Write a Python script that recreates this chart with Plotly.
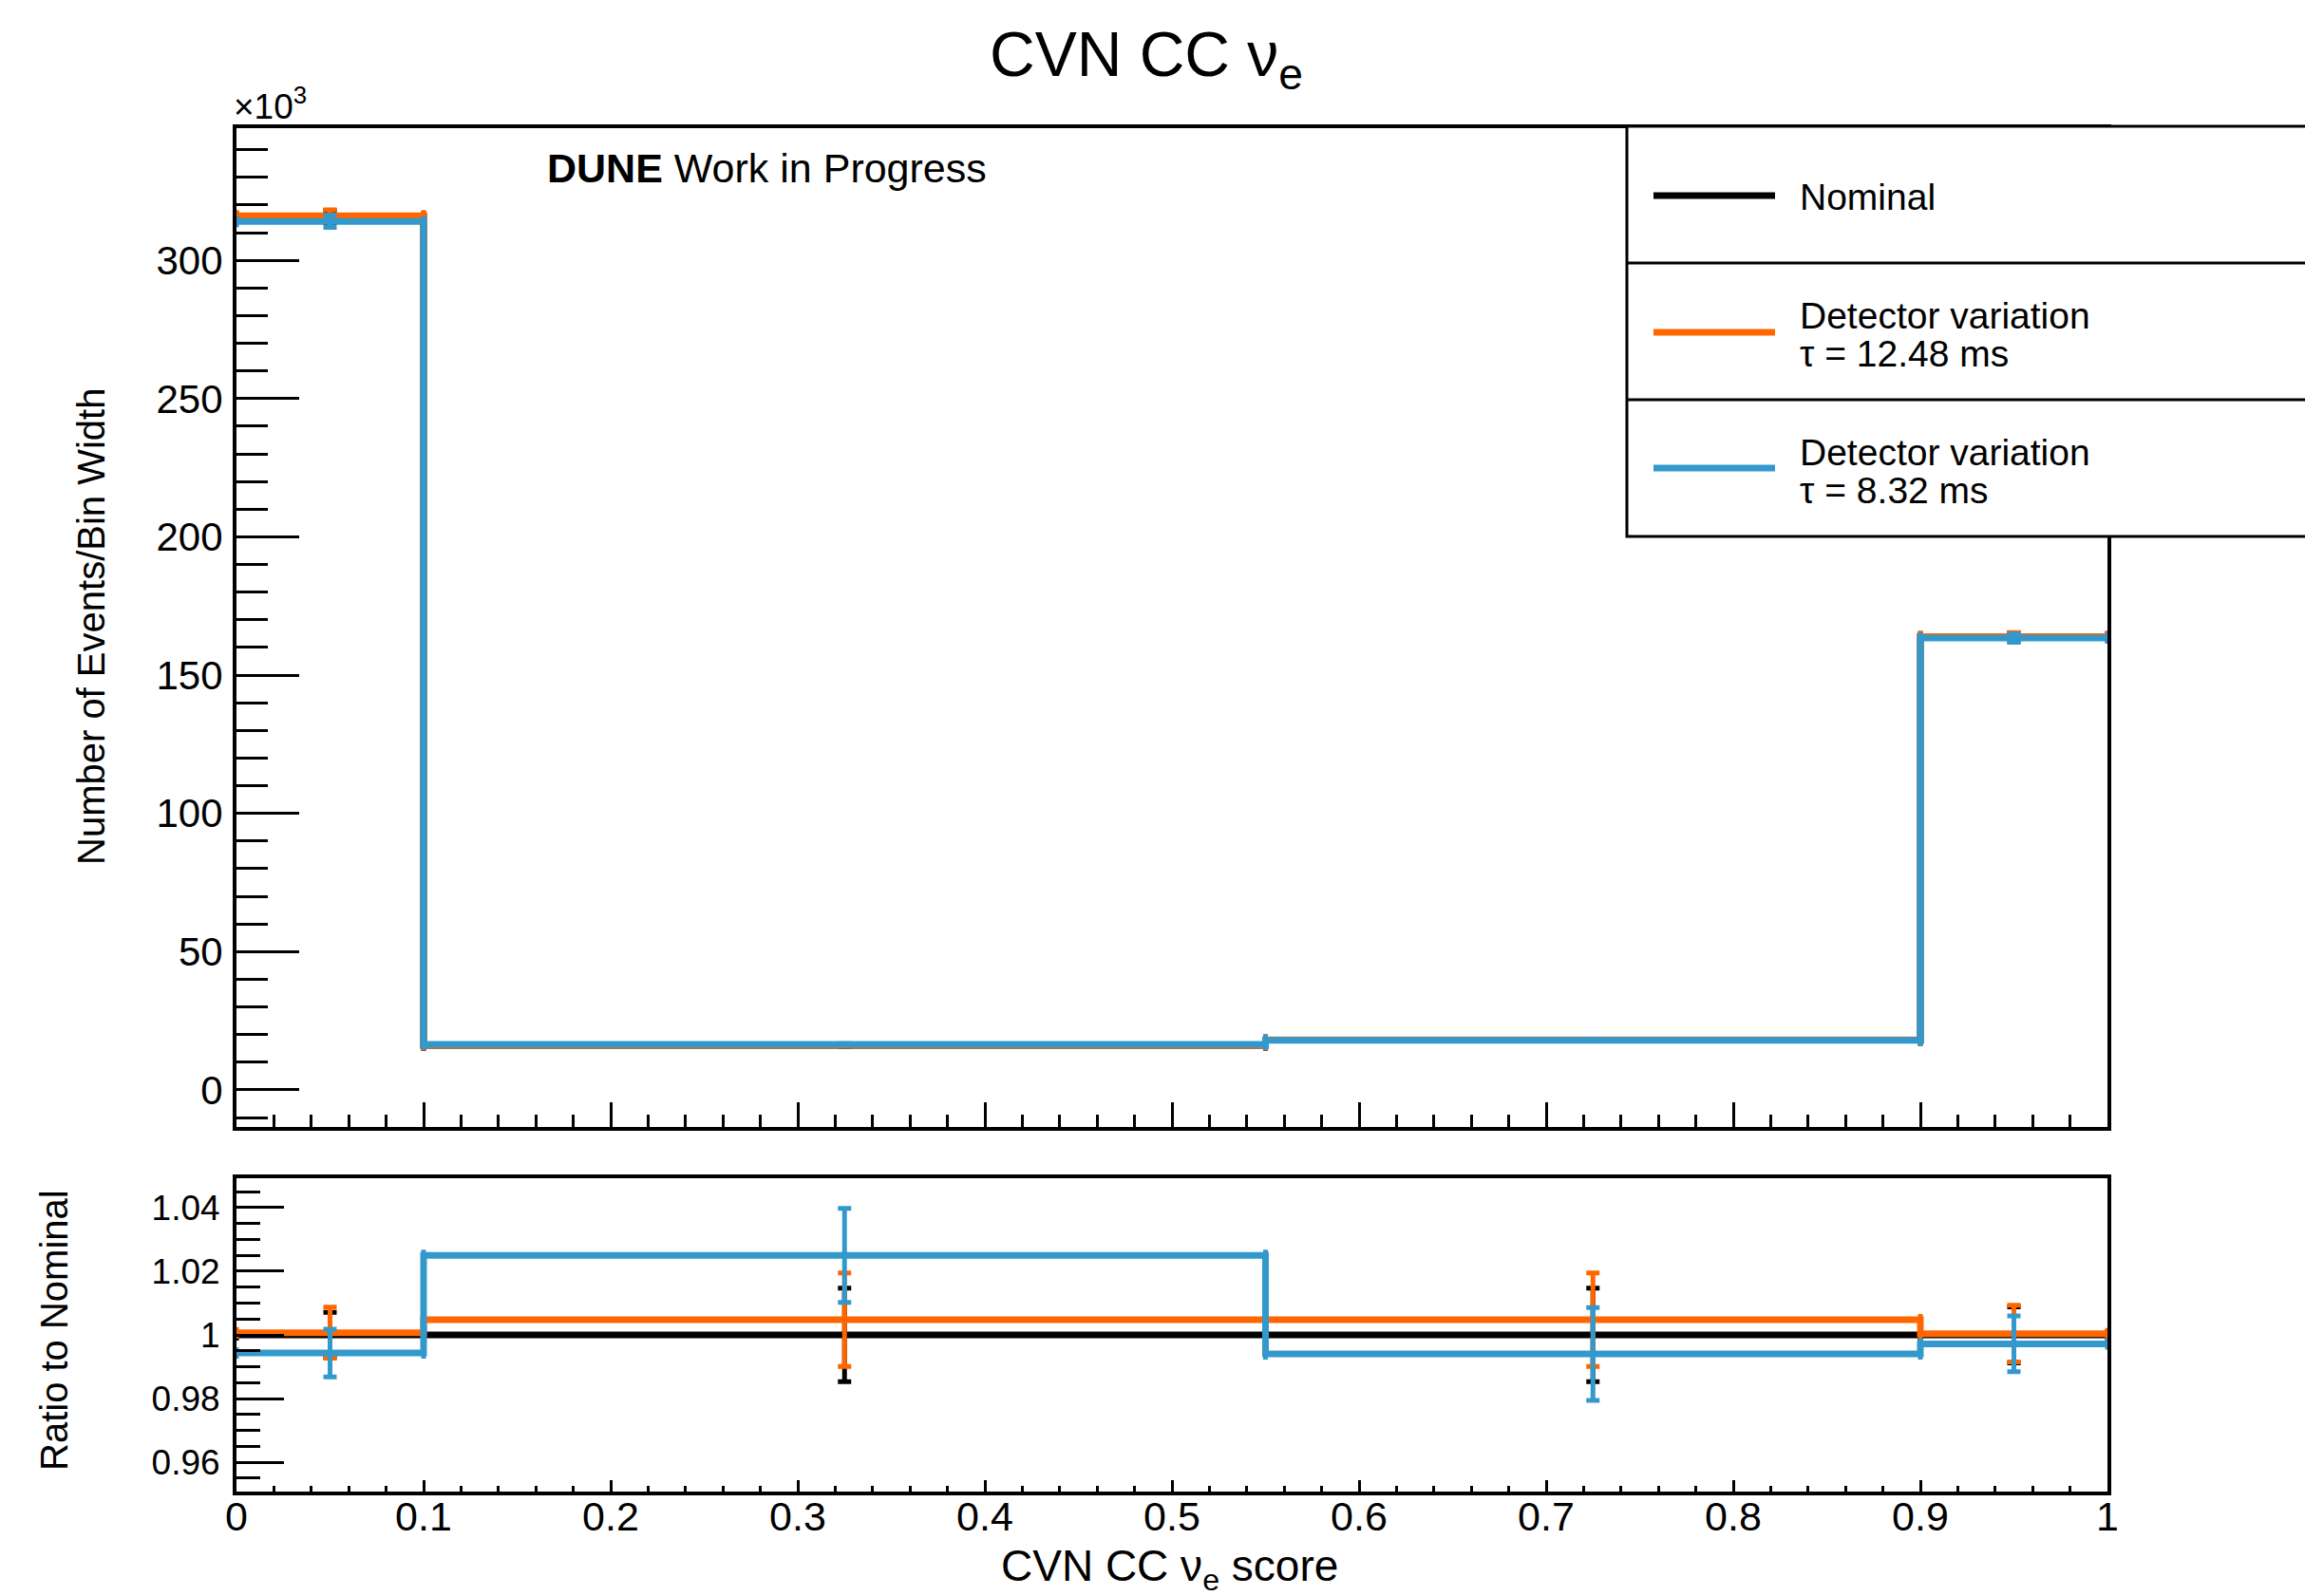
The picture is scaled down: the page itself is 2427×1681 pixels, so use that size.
import plotly.graph_objects as go

W, H = 2427, 1681

# ---------------- data ----------------
bin_edges = [0.0, 0.1, 0.55, 0.9, 1.0]

# Number of events / bin width, in units of 10^3
nominal = [315.8, 16.1, 18.0, 163.85]
var_12p48 = [316.1, 16.18, 18.09, 163.9]
var_8p32 = [314.1, 16.5, 17.9, 163.4]
nominal_err = [2.2, 0.24, 0.26, 1.5]
var_12p48_err = [2.2, 0.24, 0.27, 1.5]
var_8p32_err = [2.2, 0.24, 0.26, 1.5]

# Ratio to nominal
ratio_nominal = [1.0, 1.0, 1.0, 1.0]
ratio_12p48 = [1.0007, 1.0048, 1.0048, 1.0004]
ratio_8p32 = [0.9943, 1.025, 0.994, 0.9972]
ratio_nominal_err = [0.0071, 0.0147, 0.0147, 0.0088]
ratio_12p48_err = [0.008, 0.0147, 0.0147, 0.0089]
ratio_8p32_err = [0.0075, 0.0148, 0.0146, 0.0088]

series_names = ["Nominal", "Detector variation", "Detector variation"]
series_sub = ["", "τ = 12.48 ms", "τ = 8.32 ms"]
colors = ["#000000", "#FF6600", "#3399CC"]

FONT = "Liberation Sans, Arial, Helvetica, sans-serif"


def px(x):
    return x / W


def py(y):
    return 1 - y / H


fig = go.Figure()

centers = [(a + b) / 2 for a, b in zip(bin_edges[:-1], bin_edges[1:])]
halfw = [(b - a) / 2 for a, b in zip(bin_edges[:-1], bin_edges[1:])]


def add_hist(vals, errs, color, xa, ya):
    fig.add_trace(go.Scatter(
        x=bin_edges, y=list(vals) + [vals[-1]], mode="lines",
        line=dict(color=color, width=7, shape="hv"),
        xaxis=xa, yaxis=ya, showlegend=False, hoverinfo="skip"))
    fig.add_trace(go.Scatter(
        x=centers, y=vals, mode="markers",
        marker=dict(size=0.1, color=color),
        error_x=dict(type="data", array=halfw, color=color, thickness=5, width=6),
        error_y=dict(type="data", array=errs, color=color, thickness=5, width=7),
        xaxis=xa, yaxis=ya, showlegend=False, hoverinfo="skip", cliponaxis=False))


for vals, errs, c in zip([nominal, var_12p48, var_8p32],
                         [nominal_err, var_12p48_err, var_8p32_err], colors):
    add_hist(vals, errs, c, "x", "y")

for vals, errs, c in zip([ratio_nominal, ratio_12p48, ratio_8p32],
                         [ratio_nominal_err, ratio_12p48_err, ratio_8p32_err], colors):
    add_hist(vals, errs, c, "x2", "y2")

xdom = [px(249), px(2219)]
common = dict(showline=True, linecolor="black", linewidth=4, mirror=True,
              ticks="inside", tickcolor="black", tickwidth=3,
              showgrid=False, zeroline=False, automargin=False)

fig.update_layout(
    width=W, height=H, autosize=False,
    margin=dict(l=0, r=0, t=0, b=0, pad=0),
    paper_bgcolor="white", plot_bgcolor="white",
    showlegend=False,
    font=dict(family=FONT, color="black"),
    xaxis=dict(domain=xdom, anchor="y", range=[0, 1], dtick=0.1, tick0=0,
               ticklen=26, showticklabels=False,
               minor=dict(dtick=0.02, tick0=0, ticks="inside", ticklen=13,
                          tickwidth=3, tickcolor="black", showgrid=False),
               **common),
    yaxis=dict(domain=[py(1187), py(135)], anchor="x", range=[-13.4, 347.8],
               dtick=50, tick0=0, ticklen=66,
               tickfont=dict(size=42, family=FONT), ticklabelstandoff=2,
               minor=dict(dtick=10, tick0=0, ticks="inside", ticklen=33,
                          tickwidth=3, tickcolor="black", showgrid=False),
               **common),
    xaxis2=dict(domain=xdom, anchor="y2", range=[0, 1], dtick=0.1, tick0=0,
                ticklen=12, tickfont=dict(size=43, family=FONT), ticklabelstandoff=-15,
                minor=dict(dtick=0.02, tick0=0, ticks="inside", ticklen=6,
                           tickwidth=3, tickcolor="black", showgrid=False),
                **common),
    yaxis2=dict(domain=[py(1571), py(1241)], anchor="x2", range=[0.95075, 1.04925],
                dtick=0.02, tick0=0.96, ticklen=50,
                tickfont=dict(size=37, family=FONT), ticklabelstandoff=6,
                minor=dict(dtick=0.005, tick0=0.95, ticks="inside", ticklen=25,
                           tickwidth=3, tickcolor="black", showgrid=False),
                **common),
)

# ---------------- legend (drawn by hand, ROOT style) ----------------
shapes = []
lx0, lx1 = 1713, 2440
ly = [133, 277, 421, 565]
shapes.append(dict(type="rect", xref="paper", yref="paper",
                   x0=px(lx0), x1=px(lx1), y0=py(ly[3]), y1=py(ly[0]),
                   line=dict(color="black", width=3), fillcolor="white", layer="above"))
for yy in ly[1:3]:
    shapes.append(dict(type="line", xref="paper", yref="paper",
                       x0=px(lx0), x1=px(lx1), y0=py(yy), y1=py(yy),
                       line=dict(color="black", width=3), layer="above"))
legend_line_y = [206, 350, 493]
for yy, c in zip(legend_line_y, colors):
    shapes.append(dict(type="line", xref="paper", yref="paper",
                       x0=px(1741), x1=px(1869), y0=py(yy), y1=py(yy),
                       line=dict(color=c, width=7), layer="above"))
fig.update_layout(shapes=shapes)

ann = []


def text(t, x, y, size, xanchor="left", yanchor="middle", angle=0):
    ann.append(dict(text=t, x=px(x), y=py(y), xref="paper", yref="paper",
                    xanchor=xanchor, yanchor=yanchor, showarrow=False,
                    textangle=angle, font=dict(size=size, family=FONT, color="black")))


# legend texts
text(series_names[0], 1893, 207, 39)
text(series_names[1], 1893, 332, 39)
text(series_sub[1], 1893, 372, 39)
text(series_names[2], 1893, 476, 39)
text(series_sub[2], 1893, 516, 39)

# titles
text("CVN CC ν<sub>e</sub>", 1207, 62, 66, xanchor="center")
text("<b>DUNE</b> Work in Progress", 574, 177, 43)
text("×10<sup>3</sup>", 244, 110, 37)
text("Number of Events/Bin Width", 96, 660, 40, xanchor="center", angle=-90)
text("Ratio to Nominal", 57, 1401, 40, xanchor="center", angle=-90)
text("CVN CC ν<sub>e</sub> score", 1231, 1652, 46, xanchor="center")

fig.update_layout(annotations=ann)

fig.write_html("out.html", config={"responsive": False})
